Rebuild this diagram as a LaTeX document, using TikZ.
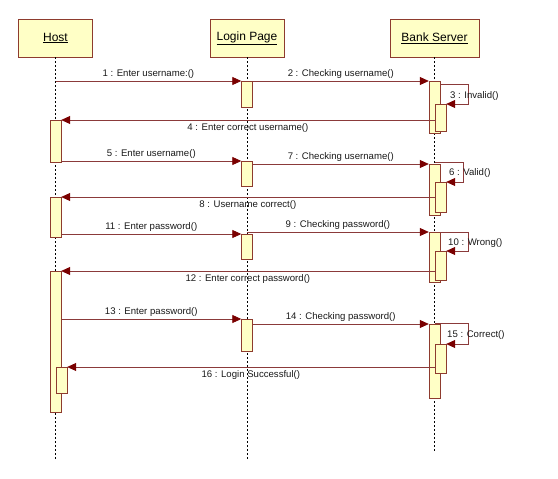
\documentclass[tikz,border=0pt]{standalone}
\usepackage{fontspec}
\setmainfont{Liberation Sans}
\usetikzlibrary{arrows.meta,positioning,calc}
\definecolor{actfill}{HTML}{FFFFC6}
\definecolor{actline}{HTML}{8E3B2E}
\definecolor{msgline}{HTML}{8B3A3A}
\definecolor{msghead}{HTML}{7A0000}
\begin{document}
\begin{tikzpicture}[x=1pt,y=-1pt,
  font=\fontsize{9.6}{11}\selectfont,
  obj/.style={draw=actline,fill=actfill,minimum width=74pt,minimum height=38pt,inner sep=0pt,font=\fontsize{12}{14}\selectfont},
  act/.style={draw=actline,fill=actfill,minimum width=11pt,minimum height=#1,anchor=north,inner sep=0pt},
  life/.style={dash pattern=on 2pt off 2pt,line width=0.6pt},
  msg/.style={draw=msgline,line width=0.8pt,-{Triangle[length=9pt,width=8pt,color=msghead]}},
  lbl/.style={text=black!90,inner sep=1pt}
]
\useasboundingbox (0,0) rectangle (558,479);
\node[obj] (host) at (55.5,38) {\underline{Host}};
\node[obj] (login) at (247,38) {\underline{Login Page}};
\node[obj,minimum width=89pt] (bank) at (434.5,38) {\underline{Bank Server}};
\coordinate (hostend) at (55.5,459);
\coordinate (loginend) at (247,459);
\coordinate (bankend) at (434.5,453);
\draw[life] (host.south) -- (hostend);
\draw[life] (login.south) -- (loginend);
\draw[life] (bank.south) -- (bankend);

\node[act=42pt] (ha1) at (55.5,120) {};
\node[act=40pt] (ha2) at (55.5,197) {};
\node[act=141pt] (ha3) at (55.5,271) {};
\node[act=26pt] (hn) at (61.5,367) {};
\node[act=26pt] (la1) at (247,81) {};
\node[act=25pt] (la2) at (247,161) {};
\node[act=25pt] (la3) at (247,234) {};
\node[act=32pt] (la4) at (247,319) {};
\node[act=52pt] (ba1) at (434.5,81) {};
\node[act=51pt] (ba2) at (434.5,164) {};
\node[act=50pt] (ba3) at (434.5,232) {};
\node[act=74pt] (ba4) at (434.5,324) {};
\node[act=27pt] (bn1) at (440.5,104) {};
\node[act=30pt] (bn2) at (440.5,182) {};
\node[act=29pt] (bn3) at (440.5,251) {};
\node[act=29pt] (bn4) at (440.5,344) {};

\draw[msg] (host |- la1.north) -- node[lbl,above=1pt]{1 : Enter username:()} (la1.north west);
\draw[msg] (la1.north east) -- node[lbl,above=1pt]{2 : Checking username()} (ba1.north west);
\draw[msg] ([yshift=-3pt]ba1.north east) -- ++(28,0) |- (bn1.north east);
\node[lbl,anchor=west] (t3) at (449,96) {3 : Invalid()};
\draw[msg] (ba1 |- ha1.north) -- node[lbl,below=2pt]{4 : Enter correct username()} (ha1.north east);
\draw[msg] (ha1.east |- la2.north) -- node[lbl,above=1pt]{5 : Enter username()} (la2.north west);
\draw[msg] (la2.north east |- ba2.north) -- node[lbl,above=1pt]{7 : Checking username()} (ba2.north west);
\draw[msg] ([yshift=2pt]ba2.north) -- ++(28.5,0) |- (bn2.north east);
\node[lbl,anchor=west] (t6) at (448,173) {6 : Valid()};
\draw[msg] (ba2 |- ha2.north) -- node[lbl,below=2pt]{8 : Username correct()} (ha2.north east);
\draw[msg] (ha2.east |- la3.north) -- node[lbl,above=1pt]{11 : Enter password()} (la3.north west);
\draw[msg] (la3.north |- ba3.north) -- node[lbl,above=1pt]{9 : Checking password()} (ba3.north west);
\draw[msg] (ba3.north east) -- ++(28,0) |- (bn3.north east);
\node[lbl,anchor=west] (t10) at (447,243) {10 : Wrong()};
\draw[msg] (ba3 |- ha3.north) -- node[lbl,below=2pt]{12 : Enter correct password()} (ha3.north east);
\draw[msg] (ha3.east |- la4.north) -- node[lbl,above=1pt]{13 : Enter password()} (la4.north west);
\draw[msg] (la4.north east |- ba4.north) -- node[lbl,above=1pt]{14 : Checking password()} (ba4.north west);
\draw[msg] ([yshift=1pt]ba4.north) -- ++(33.5,0) |- (bn4.north east);
\node[lbl,anchor=west] (t15) at (446,335) {15 : Correct()};
\draw[msg] (ba4 |- hn.north) -- node[lbl,below=2pt]{16 : Login Successful()} (hn.north east);
\end{tikzpicture}
\end{document}
